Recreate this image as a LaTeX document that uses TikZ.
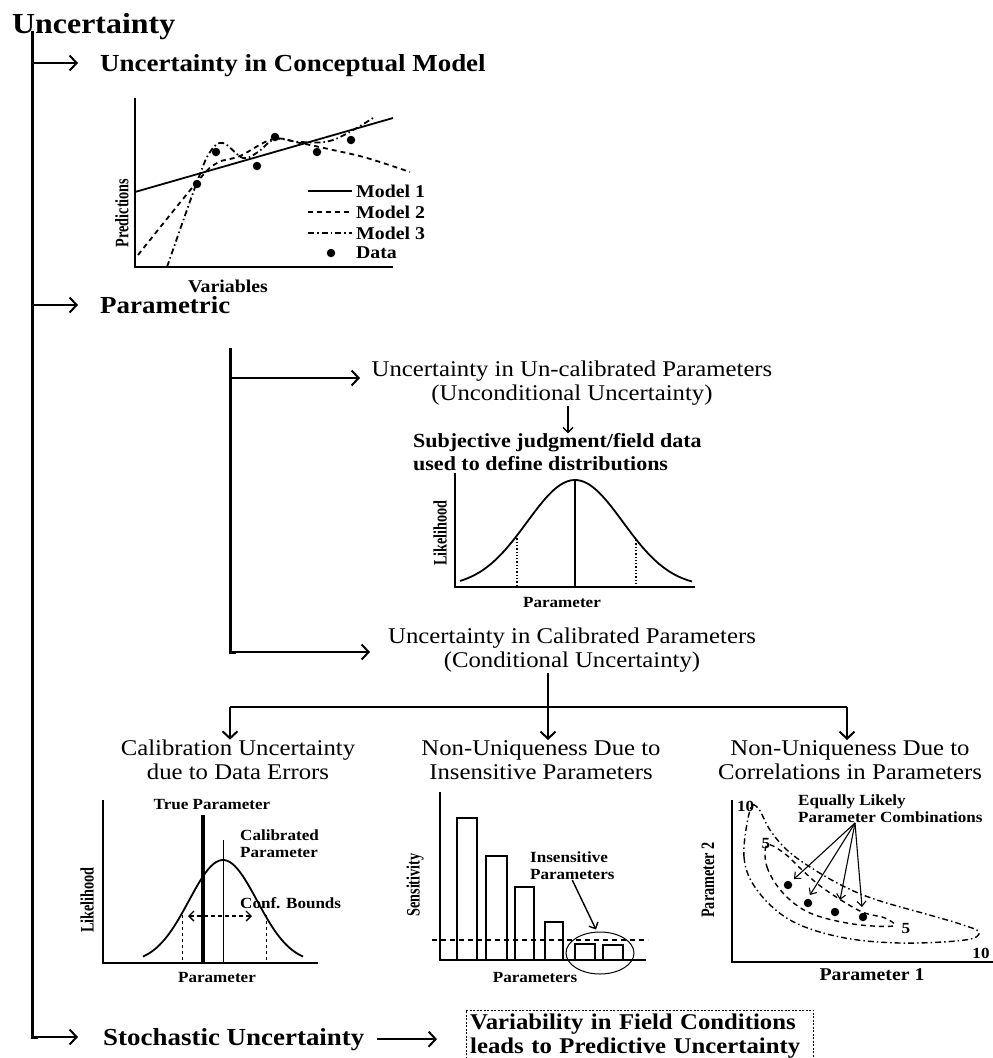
\documentclass[tikz,border=0pt]{standalone}
\usepackage{fontspec}
\setmainfont{Liberation Serif}[FakeStretch=1.1]
\newfontfamily\condf{Liberation Serif}[FakeStretch=0.75]
\usetikzlibrary{arrows.meta,shapes.geometric}
\newcommand\myfs[1]{\fontsize{#1}{#1}\selectfont}
\tikzset{
 trunk/.style={line width=3pt},
 arr/.style={line width=2pt,-{Straight Barb[length=7pt,width=15pt,line width=2pt]}},
 sarr/.style={line width=1.4pt,-{Straight Barb[length=5pt,width=10pt,line width=1.4pt]}},
 tarr/.style={line width=1.1pt,-{Straight Barb[length=5pt,width=9pt,line width=1.1pt]}},
 axline/.style={line width=2.2pt},
 crv/.style={line width=1.8pt},
 ttl/.style={font=\myfs{29}\bfseries, anchor=base west, inner sep=0},
 head/.style={font=\myfs{24.5}\bfseries, anchor=base west, inner sep=0},
 desc/.style={font=\fontsize{22.5}{24.5}\selectfont, align=center, inner sep=0},
 subnote/.style={font=\fontsize{20}{22.5}\selectfont\bfseries, align=left, inner sep=0},
 lab/.style={font=\fontsize{15.5}{17}\selectfont\bfseries, inner sep=0},
 leg/.style={font=\myfs{18}\bfseries, anchor=west, inner sep=0},
 rlab/.style={font=\condf\myfs{19}\bfseries, rotate=90, inner sep=0},
 datapt/.style={fill=black, circle, inner sep=0, minimum size=8.5pt},
 dashdot/.style={dash pattern=on 6pt off 3pt on 1.5pt off 3pt},
 dashln/.style={dash pattern=on 5pt off 4pt},
 boxline/.style={line width=0.9pt, dash pattern=on 2pt off 1.5pt},
}
\begin{document}
\begin{tikzpicture}[x=1pt,y=-1pt]
\useasboundingbox (0,0) rectangle (993,1058);

% ---------- main trunk ----------
\node[ttl] (title) at (12,33) {Uncertainty};
\coordinate (t0) at (32,31);
\coordinate (t1) at (32,63);   \coordinate (t1e) at (78,63);
\coordinate (t2) at (32,305);  \coordinate (t2e) at (78,305);
\coordinate (t3) at (32,1037); \coordinate (t3e) at (78,1037);
\draw[trunk] (t0) -- (t3) -- ([xshift=6pt]t3);
\draw[arr] (t1) -- (t1e);
\draw[arr] (t2) -- (t2e);
\draw[arr] (t3) -- (t3e);
\node[head] (h1) at (100,71) {Uncertainty in Conceptual Model};
\node[head] (h2) at (100,313) {Parametric};
\node[head] (h3) at (103,1045) {Stochastic Uncertainty};

% ---------- plot 1 : conceptual model ----------
\draw[axline] (135,98) -- (135,267) -- (393,267);
\draw[crv] (135,192) -- (393,118);
\draw[crv,dashln] plot[smooth,tension=0.6] coordinates {(138,255) (197,182) (217,163) (240,156) (273,139) (300,143) (333,150) (367,158) (410,172)};
\draw[crv,dashdot] plot[smooth,tension=0.6] coordinates {(167,267) (197,182) (210,152) (223,143) (243,158) (258,152) (275,139) (300,142) (333,140) (373,118)};
\foreach \p in {(197,184),(216,152),(257,166),(275,137),(317,152),(351,140)}
  \node[datapt] at \p {};
\draw[crv] (308,191) -- (352,191);
\draw[crv,dashln] (308,212) -- (352,212);
\draw[crv,dashdot] (308,233) -- (352,233);
\node[datapt] (legdot) at (331,253) {};
\node[leg] (l1) at (356,191) {Model 1};
\node[leg] (l2) at (356,212) {Model 2};
\node[leg] (l3) at (356,233) {Model 3};
\node[leg] (l4) at (356,253) {Data};
\node[rlab] (ylab1) at (122,213) {Predictions};
\node[font=\myfs{18}\bfseries, inner sep=0] (xlab1) at (228,286) {Variables};

% ---------- parametric branch ----------
\coordinate (p0) at (230,348);
\coordinate (p1) at (230,378); \coordinate (p1e) at (360,378);
\coordinate (p2) at (230,652); \coordinate (p2e) at (370,652);
\draw[trunk] (p0) -- (p2) -- ([xshift=6pt]p2);
\draw[arr] (p1) -- (p1e);
\draw[arr] (p2) -- (p2e);

\node[desc] (uncal) at (572,383) {Uncertainty in Un-calibrated Parameters\\(Unconditional Uncertainty)};
\node[subnote, anchor=west] (subj) at (413,452) {Subjective judgment/field data\\used to define distributions};
\draw[sarr] ([xshift=-4pt]uncal.south) -- ([xshift=-4pt]uncal.south |- subj.north);

% bell plot (unconditional)
\draw[axline] (455,473) -- (455,587) -- (695,587);
\draw[crv] plot[domain=460:692,samples=70,smooth] (\x,{587-107*exp(-((\x-575)^2)/4608)});
\draw[line width=2pt] (575,480) -- (575,587);
\draw[line width=1.3pt,dotted] (517,535) -- (517,587);
\draw[line width=1.3pt,dotted] (636,540) -- (636,587);
\node[rlab] (ylab2) at (440,533) {Likelihood};
\node[lab] (xlab2) at (562,602) {Parameter};

% calibrated
\node[desc] (cal) at (572,650) {Uncertainty in Calibrated Parameters\\(Conditional Uncertainty)};
\coordinate (j) at (548,707);
\coordinate (jl) at (230,707);
\coordinate (jr) at (847,707);
\draw[line width=2pt] (jl) -- (jr);

\node[desc] (c1) at (238,760) {Calibration Uncertainty\\due to Data Errors};
\node[desc] (c2) at (541,760) {Non-Uniqueness Due to\\Insensitive Parameters};
\node[desc] (c3) at (850,760) {Non-Uniqueness Due to\\Correlations in Parameters};
\draw[arr] (cal.south -| j) -- (j |- c2.north);
\draw[arr] (jl) -- (jl |- c1.north);
\draw[arr] (jr) -- (jr |- c3.north);

% ---------- left plot: calibration ----------
\draw[axline] (103,800) -- (103,963) -- (318,963);
\draw[crv] plot[domain=143:303,samples=60,smooth] (\x,{963-103*exp(-((\x-223)^2)/2312)});
\draw[line width=4.5pt] (203,815) -- (203,963);
\draw[line width=1pt] (223,840) -- (223,963);
\draw[line width=1pt,dash pattern=on 3pt off 3pt] (182,915) -- (182,963);
\draw[line width=1pt,dash pattern=on 3pt off 3pt] (266,915) -- (266,963);
\draw[line width=1.4pt,dash pattern=on 4pt off 3pt,{Straight Barb[length=5pt,width=10pt]}-{Straight Barb[length=5pt,width=10pt]}] (188,916) -- (252,916);
\node[lab] (tp) at (212,805) {True Parameter};
\node[lab, anchor=west, align=left] (cp) at (240,844) {Calibrated\\Parameter};
\node[lab, anchor=west] (cb) at (240,903) {Conf. Bounds};
\node[rlab] (ylab3) at (87,900) {Likelihood};
\node[lab] (xlab3) at (217,977) {Parameter};

% ---------- middle plot: sensitivity ----------
\draw[axline] (440,792) -- (440,960) -- (646,960);
\foreach \a/\b/\t in {457/477/818, 486/507/856, 515/534/887, 545/563/922, 575/595/944, 603/623/945}
  \draw[line width=2pt] (\a,960) -- (\a,\t) -- (\b,\t) -- (\b,960);
\draw[line width=1.5pt,dash pattern=on 5pt off 4pt] (432,940) -- (648,940);
\node[draw, ellipse, line width=1pt, minimum width=68pt, minimum height=42pt] (ell) at (600,953) {};
\node[lab, anchor=west, align=left] (ins) at (530,866) {Insensitive\\Parameters};
\draw[sarr] (ins.south) -- ([xshift=-4pt,yshift=2pt]ell.north);
\node[rlab] (ylab4) at (415,885) {Sensitivity};
\node[lab] (xlab4) at (535,977) {Parameters};

% ---------- right plot: correlations ----------
\draw[axline] (732,800) -- (732,962) -- (993,962);
\draw[line width=1.4pt,dashdot] plot[smooth cycle,tension=0.6] coordinates {(750,810) (744,857) (757,890) (790,920) (840,937) (900,943) (965,940) (979,932) (960,924) (933,916) (877,900) (843,886) (810,867) (787,850) (770,830) (758,808)};
\draw[line width=1.4pt,dashln] plot[smooth cycle,tension=0.6] coordinates {(767,845) (767,867) (783,893) (810,913) (853,924) (893,926) (885,918) (860,911) (823,888) (800,868) (784,853)};
\foreach \p in {(788,885),(808,903),(835,912),(863,917)}
  \node[datapt] at \p {};
\node[lab, anchor=west] (ten1) at (737,806) {10};
\node[lab] (five1) at (766,843) {5};
\node[lab] (five2) at (906,928) {5};
\node[lab] (ten2) at (981,953) {10};
\node[lab, anchor=west, align=left] (eq) at (798,809) {Equally Likely\\Parameter Combinations};
\coordinate (eqp) at (855,823);
\coordinate (a1) at (794,879);
\coordinate (a2) at (810,895);
\coordinate (a3) at (840,900);
\coordinate (a4) at (862,907);
\foreach \t in {a1,a2,a3,a4}
  \draw[tarr] (eqp) -- (\t);
\node[rlab] (ylab5) at (708,880) {Parameter 2};
\node[font=\myfs{18}\bfseries, inner sep=0] (xlab5) at (872,975) {Parameter 1};

% ---------- stochastic ----------
\node[anchor=north west, font=\fontsize{22.5}{23.5}\selectfont\bfseries, align=left,
      text width=339pt, inner xsep=4pt, inner ysep=4pt] (box) at (466,1010)
      {Variability in Field Conditions\\leads to Predictive Uncertainty};
\draw[boxline] ([yshift=-14pt]box.south west) -- (box.north west) -- (box.north east) -- ([yshift=-14pt]box.south east);
\draw[arr, shorten <=12pt, shorten >=29pt] (h3.east) -- (h3.east -| box.west);
\end{tikzpicture}
\end{document}
